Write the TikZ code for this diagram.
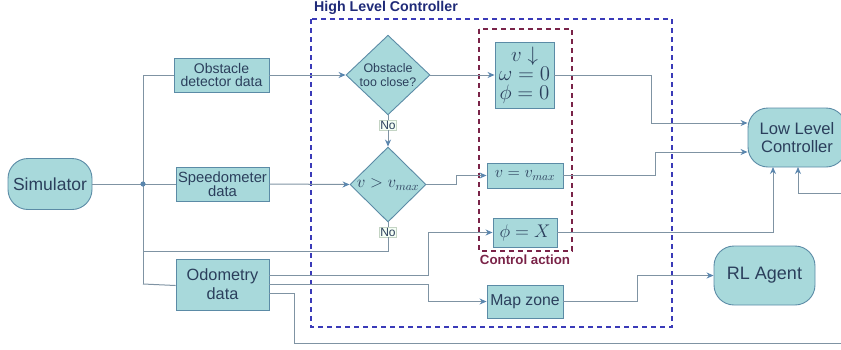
\documentclass[tikz,border=0pt]{standalone}
\usepackage{graphicx}
\usepackage{fontspec}
\setmainfont{Liberation Sans}
\usetikzlibrary{shapes.geometric,arrows.meta,calc}
\definecolor{nfill}{HTML}{A8D9DB}
\definecolor{nborder}{HTML}{5B8BA6}
\definecolor{ntext}{HTML}{2B3F5C}
\definecolor{lcol}{HTML}{7F93A3}
\definecolor{acol}{HTML}{5A86AE}
\definecolor{hlc}{HTML}{3A3AB8}
\definecolor{hlctext}{HTML}{1F2A78}
\definecolor{cac}{HTML}{7A2348}
\tikzset{
  box/.style={draw=nborder, fill=nfill, line width=0.9pt, text=ntext, align=center, inner sep=1pt},
  term/.style={box, rounded corners=20pt},
  dia/.style={draw=nborder, fill=nfill, line width=0.9pt, text=ntext, align=center, shape=diamond, inner sep=0pt},
  conn/.style={draw=lcol, line width=1pt},
  arr/.style={conn, -{Stealth[length=7pt,width=6pt,color=acol]}},
  nolab/.style={fill=green!4, draw=green!15!gray!40, line width=0.4pt, inner sep=1pt, text=ntext, font=\fontsize{12}{13}\selectfont},
}
\begin{document}
\begin{tikzpicture}[x=1pt,y=-1pt]
\useasboundingbox (0,0) rectangle (841,349);
% containers
\draw[hlc, line width=1.4pt, dash pattern=on 5pt off 4pt] (311,19) rectangle (672,327);
\node[anchor=west, inner sep=1pt, text=hlctext, font=\bfseries\fontsize{14.2}{16}\selectfont] (hlclab) at (313,7.5) {High Level Controller};
\draw[cac, line width=1.4pt, dash pattern=on 5pt off 4pt] (479,29) rectangle (572,251);
\node[text=cac, inner sep=1pt, font=\bfseries\fontsize{13.3}{15}\selectfont] (calab) at (525,259.5) {Control action};
% nodes
\node[term, minimum width=84pt, minimum height=51pt, font=\fontsize{17.5}{19}\selectfont] (sim) at (50,184) {Simulator};
\node[box, minimum width=95pt, minimum height=34pt, font=\fontsize{14}{15}\selectfont] (obs) at (221.5,75) {Obstacle\\[-1.5pt]detector data};
\node[box, minimum width=93pt, minimum height=34pt, font=\fontsize{14.8}{15}\selectfont] (spd) at (222.5,184) {Speedometer\\[-1pt]data};
\node[box, minimum width=93pt, minimum height=51pt, font=\fontsize{16.3}{19}\selectfont] (odo) at (222.5,284.5) {Odometry\\data};
\node[dia, minimum width=84pt, minimum height=76pt, font=\fontsize{12.4}{14}\selectfont] (d1) at (388,75) {Obstacle\\too close?};
\node[dia, minimum width=76pt, minimum height=75pt, font=\fontsize{14.4}{17}\selectfont] (d2) at (388,184.5) {\scalebox{1.17}{$v>v_{max}$}};
\node[nolab] (no1) at (388,125) {No};
\node[nolab] (no2) at (388,232) {No};
\node[box, minimum width=59pt, minimum height=66pt, font=\fontsize{14.4}{19}\selectfont] (stop) at (524.5,75) {\scalebox{1.45}{$v\downarrow$}\\\scalebox{1.45}{$\omega=0$}\\\scalebox{1.45}{$\phi=0$}};
\node[box, minimum width=76pt, minimum height=25pt, font=\fontsize{14.4}{16}\selectfont] (vmax) at (525,175.5) {\scalebox{1.13}{$v=v_{max}$}};
\node[box, minimum width=64pt, minimum height=29pt, font=\fontsize{14.4}{18}\selectfont] (phix) at (525,232.5) {\scalebox{1.27}{$\phi=X$}};
\node[box, minimum width=76pt, minimum height=33pt, font=\fontsize{15.8}{17}\selectfont] (map) at (525,301.5) {Map zone};
\node[term, minimum width=98pt, minimum height=59pt, font=\fontsize{16.6}{18}\selectfont] (llc) at (797,137.5) {Low Level\\Controller};
\node[term, minimum width=101pt, minimum height=59pt, font=\fontsize{18}{20}\selectfont] (rl) at (764.5,275.5) {RL Agent};
% coordinates
\coordinate (j) at (143,184);
\coordinate (jtop) at (143,75);
\coordinate (jbot) at (143,284);
\coordinate (jno) at (143,251);
\coordinate (rin) at (841,193);
\coordinate (rbot) at (841,343);
% connectors from simulator
\draw[conn] (sim.east) -- (j);
\draw[conn] (jtop) -- (jbot);
\draw[conn] (jtop) -- (obs.west);
\draw[conn] (j) -- (spd.west);
\draw[conn] (jbot) -- ($(odo.west)+(0,1)$);
\fill[acol] (j) circle (2.6pt);
% decision flow
\draw[arr] (obs.east) -- (d1.west);
\draw[arr] (spd.east) -- (d2.west);
\draw[conn] (d1.south) -- (no1.north);
\draw[arr] (no1.south) -- (d2.north);
\draw[conn] (d2.south) -- (no2.north);
\draw[conn] (no2.south) |- (jno);
\draw[arr] (d1.east) -- (stop.west);
\draw[arr] (d2.east) -- (456,184.5) |- (vmax.west);
% odometry outputs
\draw[arr] ($(odo.east)+(0,-9.5)$) -- (428,275) |- (phix.west);
\draw[arr] ($(odo.east)+(0,-0.5)$) -- (428,284) |- (map.west);
\draw[conn] ($(odo.east)+(0,8.5)$) -- (294,293) |- (rbot);
% to low level controller
\draw[arr] (stop.east) -- (651,75) |- ($(llc.west)+(0,-14.5)$);
\draw[arr] (vmax.east) -- (655,175.5) |- ($(llc.west)+(0,14.5)$);
\draw[arr] (phix.east) -- (773,232.5) -- (773,167);
\draw[arr] (rin) -- (798,193) -- (798,167);
% to RL agent
\draw[arr] (map.east) -- (637,301.5) |- (rl.west);
\end{tikzpicture}
\end{document}
